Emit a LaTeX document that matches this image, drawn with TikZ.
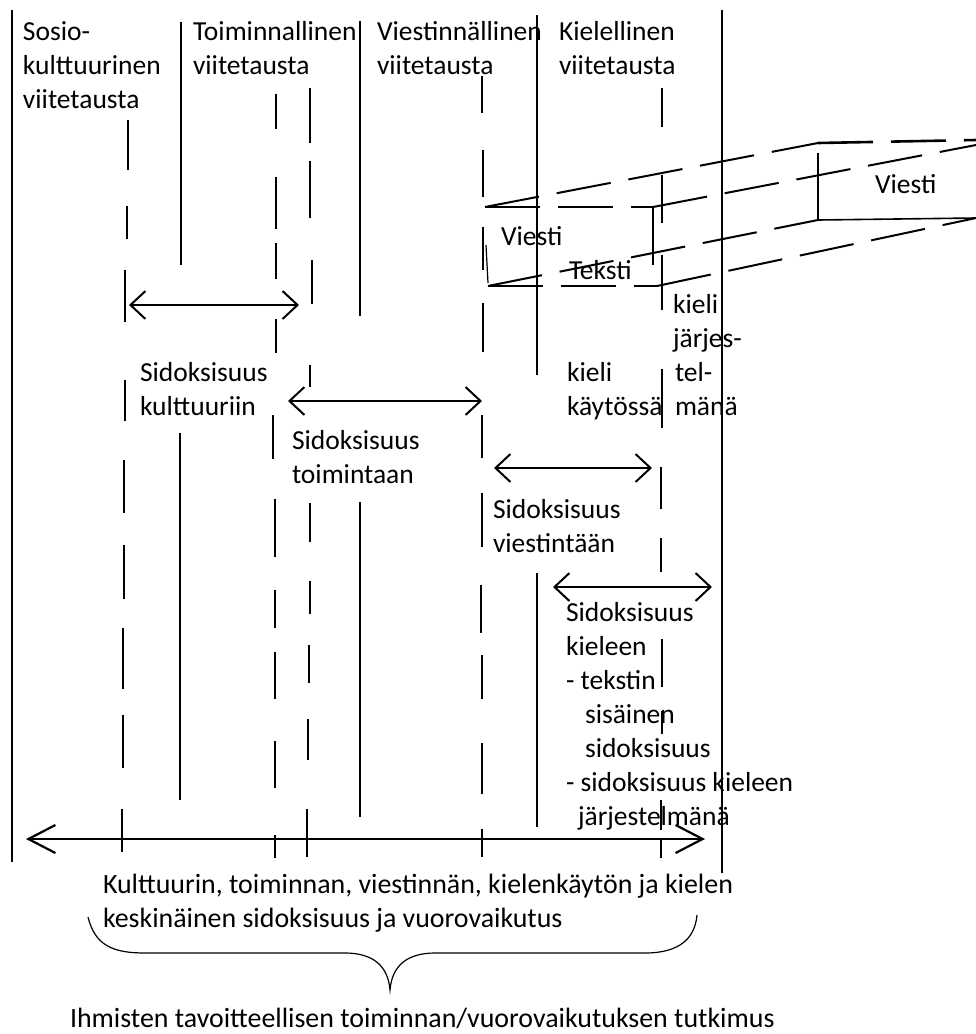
\documentclass[tikz,border=0pt]{standalone}
\usepackage{fontspec}
\setmainfont{Carlito}
\usetikzlibrary{arrows.meta}
\begin{document}
\begin{tikzpicture}[x=1pt,y=-1pt,
  lbl/.style={anchor=base west,inner sep=0pt,outer sep=0pt,align=left,font=\fontsize{27.5}{34}\selectfont},
  wide/.style={font=\fontsize{27.9}{34}\selectfont},
  solidv/.style={line width=2.8pt},
  dashv/.style={line width=2.8pt},
  prism/.style={line width=2pt,dash pattern=on 55pt off 18pt},
  edge/.style={line width=1.6pt},
  dbl/.style={line width=2pt,{Straight Barb[length=15pt,width=28pt]}-{Straight Barb[length=15pt,width=28pt]}},
  bigdbl/.style={line width=2.2pt,{Straight Barb[length=27pt,width=28pt]}-{Straight Barb[length=27pt,width=28pt]}},
  bracestyle/.style={line width=1.2pt}
]
\path[use as bounding box] (0,0) rectangle (976,1034);

% solid vertical lines
\draw[solidv] (12,10) -- (12,862);
\draw[solidv] (181,22) -- (181,265);
\draw[solidv] (180,433) -- (180,800);
\draw[solidv] (360,21) -- (360,316);
\draw[solidv] (360,502) -- (360,817);
\draw[solidv] (537,15) -- (537,375);
\draw[solidv] (537,573) -- (537,827);
\draw[solidv] (722,10) -- (722,873);

% dashed vertical lines (drawn as separate dashes)
\foreach \x/\a/\b in {128/120/170,127/206/239,125/270/322,125/380/421,124/460/513,124/545/599,123/628/689,123/715/768,122/809/852}
  \draw[dashv] (\x,\a) -- (\x,\b);
\foreach \x/\a/\b in {276/94/129,276/177/229,276/243/279,276/319/353,273/415/459,275/499/557,275/590/628,275/652/699,275/741/788,275/835/858}
  \draw[dashv] (\x,\a) -- (\x,\b);
\foreach \x/\a/\b in {310/88/143,310/161/218,312/260/304,310/365/387,310/503/542,310/581/614,309/645/683,308/719/760,307/809/857}
  \draw[dashv] (\x,\a) -- (\x,\b);
\foreach \x/\a/\b in {482/76/113,483/150/197,483/227/270,483/303/352,482/415/458,482/493/547,481/585/633,482/655/699,482/743/794,482/829/857}
  \draw[dashv] (\x,\a) -- (\x,\b);
\foreach \x/\a/\b in {662/88/127,662/175/223,662/255/310,662/369/428,661/467/509,661/538/572,662/639/687,662/711/734,661/800/830,661/840/858}
  \draw[dashv] (\x,\a) -- (\x,\b);

% message / text prism
\coordinate (ltl) at (485,207);
\coordinate (ltr) at (653,207);
\coordinate (lbl) at (488,286);
\coordinate (lbr) at (657,286);
\coordinate (rtl) at (818,143);
\coordinate (rtr) at (976,140);
\coordinate (rml) at (818,153);
\coordinate (rbl) at (818,220);
\coordinate (rbr) at (976,218);
\coordinate (rmr) at (976,145);
\draw[prism] (ltl) -- (ltr);
\draw[prism] (lbl) -- (lbr);
\draw[prism] (ltl) -- (rtl);
\draw[prism,line width=2.6pt] (rtl) -- (rtr);
\draw[prism] (ltr) -- (rmr);
\draw[prism] (lbl) -- (rbl);
\draw[prism] (lbr) -- (rbr);
\draw[edge] (rml) -- (rbl) -- (rbr);
\draw[edge] (653,208) -- (653,265);
\draw[line width=1.2pt] (486,245) -- (488,283);

% arrows
\coordinate (a1l) at (129,305); \coordinate (a1r) at (299,305);
\coordinate (a2l) at (288,401); \coordinate (a2r) at (482,401);
\coordinate (a3l) at (494,468); \coordinate (a3r) at (652,468);
\coordinate (a4l) at (553,587); \coordinate (a4r) at (712,587);
\coordinate (a5l) at (26,839);  \coordinate (a5r) at (705,839);
\draw[dbl] (a1l) -- (a1r);
\draw[dbl] (a2l) -- (a2r);
\draw[dbl] (a3l) -- (a3r);
\draw[dbl] (a4l) -- (a4r);
\draw[bigdbl] (a5l) -- (a5r);

% labels (anchor = baseline of the last line)
\node[lbl] (t1) at (23,108) {Sosio-\\kulttuurinen\\viitetausta};
\node[lbl] (t2) at (193,74) {Toiminnallinen\\viitetausta};
\node[lbl] (t3) at (377,74) {Viestinnällinen\\viitetausta};
\node[lbl] (t4) at (559,74) {Kielellinen\\viitetausta};
\node[lbl] (v1) at (501,245) {Viesti};
\node[lbl] (te) at (569,279) {Teksti};
\node[lbl] (v2) at (875,193) {Viesti};
\node[lbl] (kj) at (673,415) {kieli\\järjes-\\\hspace*{2pt}tel-\\\hspace*{2pt}mänä};
\node[lbl] (kk) at (567,415) {kieli\\käytössä};
\node[lbl] (s1) at (140,415) {Sidoksisuus\\kulttuuriin};
\node[lbl] (s2) at (292,483) {Sidoksisuus\\toimintaan};
\node[lbl] (s3) at (493,552) {Sidoksisuus\\viestintään};
\node[lbl] (s4) at (566,825) {Sidoksisuus\\kieleen\\- tekstin\\\hspace*{19pt}sisäinen\\\hspace*{19pt}sidoksisuus\\- sidoksisuus kieleen\\\hspace*{12pt}järjestelmänä};
\node[lbl,wide] (b1) at (103,927) {Kulttuurin, toiminnan, viestinnän, kielenkäytön ja kielen\\keskinäinen sidoksisuus ja vuorovaikutus};
\node[lbl,wide] (b2) at (70,1027) {Ihmisten tavoitteellisen toiminnan/vuorovaikutuksen tutkimus};

% brace
\draw[bracestyle] (88,917) .. controls (95,945) and (112,953) .. (145,953) -- (345,953)
  .. controls (372,953) and (388,965) .. (390,990)
  .. controls (392,965) and (408,953) .. (435,953) -- (645,953)
  .. controls (680,953) and (695,938) .. (697,915);
\end{tikzpicture}
\end{document}
